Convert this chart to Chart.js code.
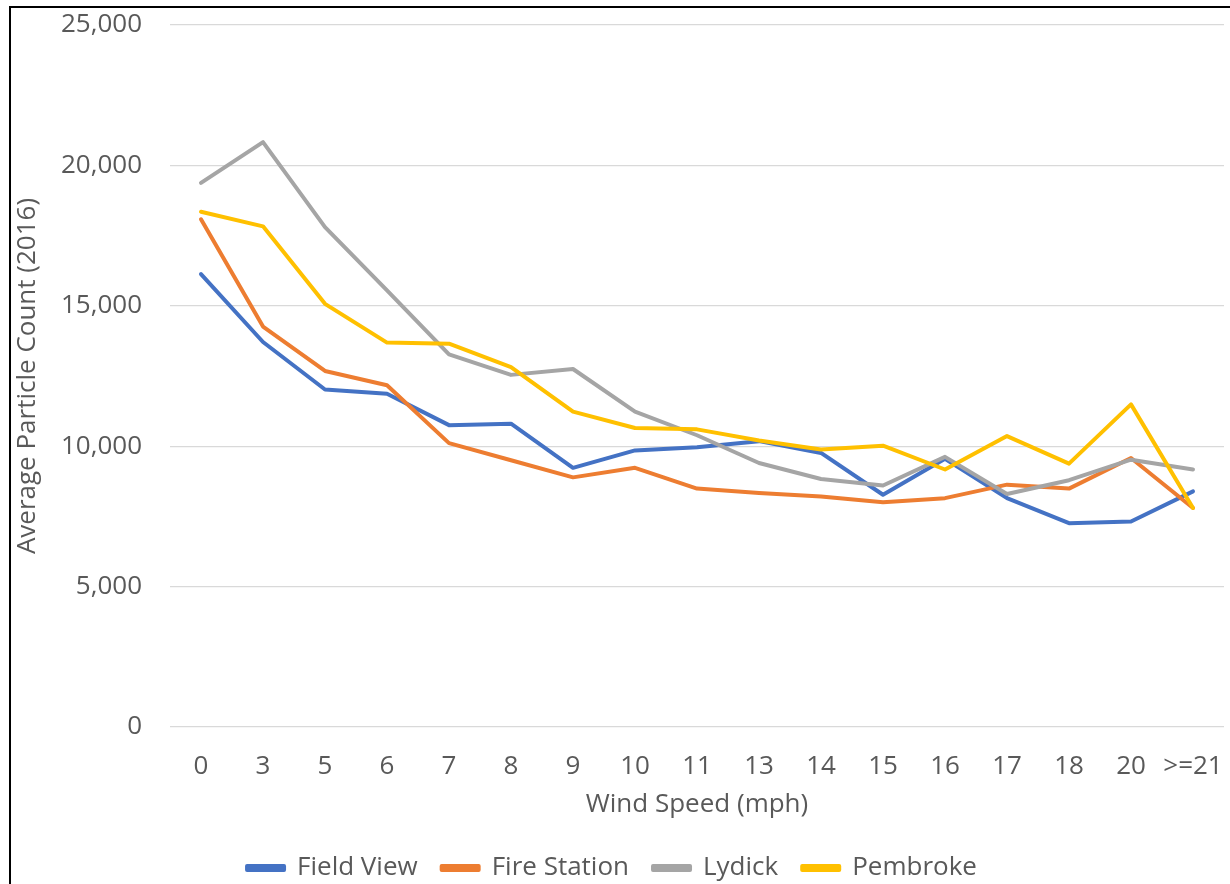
<!DOCTYPE html>
<html>
<head>
<meta charset="utf-8">
<script src="https://cdn.jsdelivr.net/npm/chart.js@4.4.0/dist/chart.umd.min.js"></script>
<style>
  html, body { margin: 0; padding: 0; background: #fff; overflow: hidden; }
  #wrap { position: absolute; left: 0; top: 0; width: 1230px; height: 884px; }
  #frame { position: absolute; left: 9px; top: 6px; width: 1300px; height: 1000px;
           border: 2px solid #000; pointer-events: none; }
</style>
</head>
<body>
<div id="wrap"><canvas id="chart" width="1230" height="884"></canvas></div>
<div id="frame"></div>
<script>
// wind speed buckets (mph)
let windSpeeds = ['0', '3', '5', '6', '7', '8', '9', '10', '11', '13', '14', '15', '16', '17', '18', '20', '>=21'];

// average particle count per site, 2016
let fieldView   = [16130, 13710, 12020, 11870, 10750, 10800, 9230, 9850, 9960, 10180, 9760, 8270, 9550, 8150, 7260, 7320, 8390];
let fireStation = [18080, 14260, 12680, 12170, 10110, 9500, 8890, 9230, 8490, 8330, 8210, 8000, 8150, 8630, 8490, 9580, 7800];
let lydick      = [19380, 20830, 17800, 15550, 13270, 12540, 12750, 11230, 10390, 9400, 8830, 8600, 9620, 8300, 8790, 9520, 9170];
let pembroke    = [18350, 17830, 15070, 13690, 13650, 12820, 11230, 10650, 10600, 10200, 9880, 10020, 9170, 10360, 9380, 11490, 7800];

let siteNames = ['Field View', 'Fire Station', 'Lydick', 'Pembroke'];
let siteColors = ['#4472C4', '#ED7D31', '#A5A5A5', '#FFC000'];

let yTicks = [0, 5000, 10000, 15000, 20000, 25000];

const txt = '#595959';
const fontFam = '"Open Sans", Lato, sans-serif';

function lineSet(i, values){
    return {
        label: siteNames[i],
        data: values,
        borderColor: siteColors[i],
        backgroundColor: siteColors[i],
        borderWidth: 4,
        pointRadius: 0,
        tension: 0,
        fill: false,
        borderJoinStyle: 'round',
        borderCapStyle: 'round',
        order: 4 - i   // later series drawn on top, like the original
    };
}

const ctx = document.getElementById('chart').getContext('2d');
const chart = new Chart(ctx, {
    type: 'line',
    data: {
        labels: windSpeeds,
        datasets: [
            lineSet(0, fieldView),
            lineSet(1, fireStation),
            lineSet(2, lydick),
            lineSet(3, pembroke)
        ]
    },
    options: {
        responsive: false,
        animation: false,
        layout: { padding: { top: 25, right: 6, bottom: -7, left: 0 } },
        plugins: {
            tooltip: { enabled: false },
            legend: {
                position: 'bottom',
                labels: {
                    boxWidth: 37,
                    boxHeight: 4,
                    padding: 24,
                    color: txt,
                    font: { family: fontFam, size: 26 },
                    sort: (a, b) => a.datasetIndex - b.datasetIndex
                }
            }
        },
        scales: {
            x: {
                offset: true,
                afterFit: s => { s.height = 104; s.paddingLeft = 0; s.paddingRight = 0; },
                grid: { display: false, drawTicks: false },
                border: { display: false },
                ticks: { color: txt, padding: 24, font: { family: fontFam, size: 26 }, maxRotation: 0, autoSkip: false },
                title: { display: true, text: 'Wind Speed (mph)', color: txt, font: { family: fontFam, size: 26 }, padding: { top: 4, bottom: 11 } }
            },
            y: {
                min: 0,
                max: 25000,
                afterBuildTicks: s => { s.ticks = yTicks.map(v => ({ value: v })); },
                afterFit: s => { s.width = 170; s.paddingTop = 0; s.paddingBottom = 0; },
                grid: { color: '#D9D9D9', lineWidth: 1.3, drawTicks: false },
                border: { display: false },
                ticks: {
                    color: txt, padding: 28, font: { family: fontFam, size: 26 },
                    callback: v => v.toLocaleString('en-US')
                },
                title: { display: true, text: 'Average Particle Count (2016)', color: txt, font: { family: fontFam, size: 26 }, padding: { top: 12, bottom: 0 } }
            }
        }
    }
});
</script>
</body>
</html>
